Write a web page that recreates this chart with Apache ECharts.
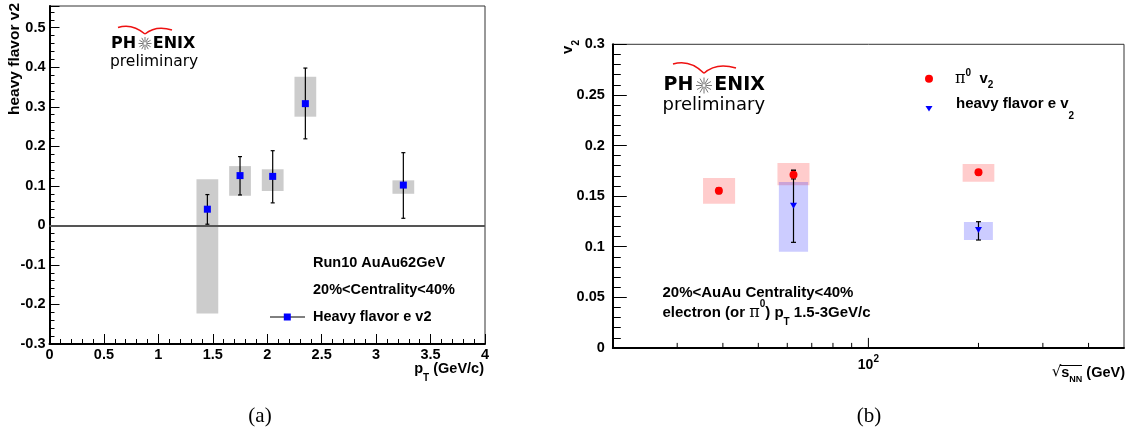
<!DOCTYPE html>
<html>
<head>
<meta charset="utf-8">
<script src="https://cdn.jsdelivr.net/npm/echarts@6/dist/echarts.min.js"></script>
<style>
  html, body { margin: 0; padding: 0; background: #fff; }
  #chart { width: 1127px; height: 429px; }
</style>
</head>
<body>
<div id="chart"></div>
<script>
// (a) heavy flavor electron v2 vs pT, Run10 AuAu 62 GeV
var ptX     = [1.45, 1.75, 2.05, 2.35, 3.25];
var ptBinLo = [1.35, 1.65, 1.95, 2.25, 3.15];
var ptBinHi = [1.55, 1.85, 2.15, 2.45, 3.35];
var hfV2     = [0.041, 0.126, 0.124, 0.308, 0.102];
var hfStatLo = [0.003, 0.077, 0.057, 0.219, 0.018];
var hfStatHi = [0.078, 0.174, 0.189, 0.398, 0.184];
var hfSysLo  = [-0.223, 0.075, 0.087, 0.275, 0.080];
var hfSysHi  = [0.117, 0.150, 0.142, 0.376, 0.114];

// (b) v2 vs sqrt(sNN)
var pi0SNN    = [39, 62.4, 200];
var pi0V2     = [0.1553, 0.1712, 0.1735];
var pi0StatLo = [0.1525, 0.1670, 0.1710];
var pi0StatHi = [0.1580, 0.1755, 0.1760];
var pi0SysLo  = [0.1425, 0.1607, 0.1642];
var pi0SysHi  = [0.1680, 0.1827, 0.1817];
var pi0BoxLo  = [35.3, 56.4, 181];
var pi0BoxHi  = [43.2, 69.0, 221];

var hfeSNN    = [62.4, 200];
var hfeV2     = [0.1405, 0.1165];
var hfeStatLo = [0.1043, 0.1066];
var hfeStatHi = [0.1755, 0.1247];
var hfeSysLo  = [0.0949, 0.1066];
var hfeSysHi  = [0.1640, 0.1244];
var hfeBoxLo  = [56.9, 182.5];
var hfeBoxHi  = [68.4, 219];

// log axis ticks of panel (b)
var logTicks = [30, 40, 50, 60, 70, 80, 90, 100, 200, 300, 400];
var logMajorTicks = [100];

var F = "'Liberation Sans', Arial, sans-serif";

function boxRender(fill) {
  return function (params, api) {
    var p1 = api.coord([api.value(0), api.value(3)]);
    var p2 = api.coord([api.value(1), api.value(2)]);
    return { type: 'rect', shape: { x: p1[0], y: p1[1], width: p2[0] - p1[0], height: p2[1] - p1[1] }, style: { fill: fill } };
  };
}
function errRender(cap) {
  return function (params, api) {
    var top = api.coord([api.value(0), api.value(2)]);
    var bot = api.coord([api.value(0), api.value(1)]);
    var st = { stroke: '#000', lineWidth: 1.2 };
    return { type: 'group', children: [
      { type: 'line', shape: { x1: top[0], y1: top[1], x2: bot[0], y2: bot[1] }, style: st },
      { type: 'line', shape: { x1: top[0] - cap, y1: top[1], x2: top[0] + cap, y2: top[1] }, style: st },
      { type: 'line', shape: { x1: bot[0] - cap, y1: bot[1], x2: bot[0] + cap, y2: bot[1] }, style: st }
    ] };
  };
}
function logTickRender(params, api) {
  var v = api.value(0);
  var p = api.coord([v, 0]);
  var major = logMajorTicks.indexOf(v) >= 0;
  var kids = [{ type: 'line', shape: { x1: p[0], y1: p[1], x2: p[0], y2: p[1] - (major ? 10 : 5) }, style: { stroke: '#000', lineWidth: 1 } }];
  if (major) {
    kids.push({ type: 'text', x: p[0], y: p[1] + 6, style: {
      text: '{m|10}{p|' + Math.round(Math.log10(v)) + '}', align: 'center', verticalAlign: 'top',
      rich: { m: { fontFamily: F, fontWeight: 'bold', fontSize: 14, lineHeight: 18, verticalAlign: 'bottom' },
              p: { fontFamily: F, fontWeight: 'bold', fontSize: 10, lineHeight: 10, verticalAlign: 'top' } } } });
  }
  return { type: 'group', children: kids };
}

function txt(x, y, s, size, extra) {
  var st = { text: s, fill: '#000', fontFamily: F, fontWeight: 'bold', fontSize: size, align: 'left', verticalAlign: 'middle' };
  for (var k in extra) st[k] = extra[k];
  return { type: 'text', x: x, y: y, silent: true, style: st };
}

function logo(px, py, size, starX, starR, enixX, prelX, prelY, prelSize, arc) {
  var els = [];
  var lf = "'DejaVu Sans', sans-serif";
  els.push({ type: 'text', x: px, y: py, style: { text: 'PH', fill: '#000', fontFamily: lf, fontWeight: 'bold', fontSize: size, align: 'left', verticalAlign: 'middle' } });
  els.push({ type: 'text', x: enixX, y: py, style: { text: 'ENIX', fill: '#000', fontFamily: lf, fontWeight: 'bold', fontSize: size, align: 'left', verticalAlign: 'middle' } });
  for (var i = 0; i < 12; i++) {
    var a = i * Math.PI / 6;
    els.push({ type: 'line', shape: { x1: starX + 1.5 * Math.cos(a), y1: py + 1.5 * Math.sin(a), x2: starX + starR * Math.cos(a), y2: py + starR * Math.sin(a) }, style: { stroke: '#777', lineWidth: 1 } });
  }
  els.push({ type: 'text', x: prelX, y: prelY, style: { text: 'preliminary', fill: '#000', fontFamily: lf, fontSize: prelSize, align: 'left', verticalAlign: 'middle' } });
  els.push({ type: 'bezierCurve', shape: { x1: arc[0][0], y1: arc[0][1], cpx1: arc[1][0], cpy1: arc[1][1], x2: arc[2][0], y2: arc[2][1] }, style: { stroke: '#ee1111', lineWidth: 1.5, fill: null } });
  els.push({ type: 'bezierCurve', shape: { x1: arc[2][0], y1: arc[2][1], cpx1: arc[3][0], cpy1: arc[3][1], x2: arc[4][0], y2: arc[4][1] }, style: { stroke: '#ee1111', lineWidth: 1.5, fill: null } });
  return els;
}

var graphics = [];
// panel (a) labels
graphics.push({ type: 'text', x: 15, y: 3, rotation: Math.PI / 2, silent: true, style: { text: 'heavy flavor v2', fill: '#000', fontFamily: F, fontWeight: 'bold', fontSize: 15.5, align: 'right', verticalAlign: 'middle' } });
graphics.push({ type: 'text', x: 484, y: 361, silent: true, style: { text: '{m|p}{s|T}{m| (GeV/c)}', fill: '#000', align: 'right', verticalAlign: 'top',
  rich: { m: { fontFamily: F, fontWeight: 'bold', fontSize: 14.5, lineHeight: 16, verticalAlign: 'top' },
          s: { fontFamily: F, fontWeight: 'bold', fontSize: 10, lineHeight: 22, verticalAlign: 'bottom' } } } });
graphics.push(txt(313, 263, 'Run10 AuAu62GeV', 14.5));
graphics.push(txt(313, 290, '20%<Centrality<40%', 14.5));
graphics.push({ type: 'line', silent: true, shape: { x1: 270, y1: 317, x2: 305, y2: 317 }, style: { stroke: '#000', lineWidth: 1 } });
graphics.push({ type: 'rect', silent: true, shape: { x: 283.8, y: 313.5, width: 7, height: 7 }, style: { fill: '#0000ff' } });
graphics.push(txt(313, 317, 'Heavy flavor e v2', 14.5));
graphics = graphics.concat(logo(111, 43.5, 16, 145, 6.5, 152.7, 110, 62, 15.5, [[118, 27.5], [132, 23], [145, 34], [156, 25], [172, 30]]));

// panel (b) labels
graphics.push({ type: 'text', x: 571, y: 40, rotation: Math.PI / 2, silent: true, style: { text: '{m|v}{s|2}', fill: '#000', align: 'right', verticalAlign: 'middle',
  rich: { m: { fontFamily: F, fontWeight: 'bold', fontSize: 15, lineHeight: 16, verticalAlign: 'top' },
          s: { fontFamily: F, fontWeight: 'bold', fontSize: 10, lineHeight: 21, verticalAlign: 'bottom' } } } });
graphics.push({ type: 'text', x: 1125, y: 365, silent: true, style: { text: '{r|√}{m|s}{s|NN}{m| (GeV)}', fill: '#000', align: 'right', verticalAlign: 'top',
  rich: { r: { fontFamily: "'DejaVu Sans', sans-serif", fontSize: 15, lineHeight: 16, verticalAlign: 'top' },
          m: { fontFamily: F, fontWeight: 'bold', fontSize: 14.5, lineHeight: 16, verticalAlign: 'top' },
          s: { fontFamily: F, fontWeight: 'bold', fontSize: 9, lineHeight: 19, verticalAlign: 'bottom' } } } });
graphics.push({ type: 'line', silent: true, shape: { x1: 1060, y1: 365.5, x2: 1082, y2: 365.5 }, style: { stroke: '#000', lineWidth: 1 } });
graphics.push({ type: 'circle', silent: true, shape: { cx: 929, cy: 78.7, r: 4 }, style: { fill: '#ff0000' } });
graphics.push({ type: 'polygon', silent: true, shape: { points: [[925.5, 106], [932.5, 106], [929, 111.5]] }, style: { fill: '#0000ff' } });
graphics.push({ type: 'text', x: 955, y: 68, silent: true, style: { text: '{pi|π}{sup|0}{m|  v}{sub|2}', fill: '#000', align: 'left', verticalAlign: 'top',
  rich: { pi: { fontFamily: "'DejaVu Serif', serif", fontSize: 16, lineHeight: 22 },
          sup: { fontFamily: F, fontWeight: 'bold', fontSize: 10, lineHeight: 14, verticalAlign: 'top' },
          m: { fontFamily: F, fontWeight: 'bold', fontSize: 15, lineHeight: 22 },
          sub: { fontFamily: F, fontWeight: 'bold', fontSize: 10, lineHeight: 16, verticalAlign: 'bottom' } } } });
graphics.push({ type: 'text', x: 956, y: 96.3, silent: true, style: { text: '{m|heavy flavor e v}{sub|2}', fill: '#000', align: 'left', verticalAlign: 'top',
  rich: { m: { fontFamily: F, fontWeight: 'bold', fontSize: 15, lineHeight: 16, verticalAlign: 'top' },
          sub: { fontFamily: F, fontWeight: 'bold', fontSize: 10, lineHeight: 25, verticalAlign: 'bottom' } } } });
graphics.push(txt(662.5, 293.3, '20%<AuAu Centrality<40%', 15));
graphics.push({ type: 'text', x: 662.5, y: 297.7, silent: true, style: { text: '{m|electron (or }{pi|π}{sup|0}{m|) p}{sub|T}{m| 1.5-3GeV/c}', fill: '#000', align: 'left', verticalAlign: 'top',
  rich: { m: { fontFamily: F, fontWeight: 'bold', fontSize: 15, lineHeight: 30 },
          pi: { fontFamily: "'DejaVu Serif', serif", fontSize: 16, lineHeight: 30 },
          sup: { fontFamily: F, fontWeight: 'bold', fontSize: 10, lineHeight: 20, verticalAlign: 'top', padding: [2, 0, 0, 0] },
          sub: { fontFamily: F, fontWeight: 'bold', fontSize: 10, lineHeight: 16, verticalAlign: 'bottom' } } } });
graphics = graphics.concat(logo(663.6, 85.5, 19, 704, 8, 714.3, 662.5, 105.8, 18, [[673, 64], [690, 59], [704, 73.3], [716, 62], [736, 68]]));

// captions
graphics.push({ type: 'text', x: 260, y: 416, silent: true, style: { text: '(a)', fill: '#000', fontFamily: "'Liberation Serif', serif", fontSize: 21, align: 'center', verticalAlign: 'middle' } });
graphics.push({ type: 'text', x: 869, y: 416, silent: true, style: { text: '(b)', fill: '#000', fontFamily: "'Liberation Serif', serif", fontSize: 21, align: 'center', verticalAlign: 'middle' } });

function fmt(max) {
  return function (v) { return v > max + 1e-6 ? '' : String(Math.round(v * 100) / 100); };
}
function lab(margin, max) {
  return { color: '#000', fontFamily: F, fontWeight: 'bold', fontSize: 14.5, margin: margin, formatter: fmt(max) };
}

var myChart = echarts.init(document.getElementById('chart'));
var option = {
  animation: false,
  backgroundColor: '#fff',
  grid: [
    { left: 49.5, top: 6, width: 435.5, height: 338, show: true, borderColor: '#333', borderWidth: 1, outerBoundsMode: 'none' },
    { left: 612.8, top: 44.3, width: 511.2, height: 303.6, show: true, borderColor: '#333', borderWidth: 1, outerBoundsMode: 'none' }
  ],
  xAxis: [
    { gridIndex: 0, type: 'value', min: 0, max: 4, interval: 0.5,
      axisLine: { onZero: false, lineStyle: { color: '#000', width: 2 } },
      axisTick: { inside: true, length: 10, lineStyle: { color: '#000', width: 1 } },
      minorTick: { show: true, splitNumber: 5, length: 5, lineStyle: { color: '#000', width: 1 } },
      splitLine: { show: false },
      axisLabel: lab(3, 4) },
    { gridIndex: 1, type: 'log', logBase: 10, min: 20, max: 500,
      axisLine: { onZero: false, lineStyle: { color: '#000', width: 2 } },
      axisTick: { show: false }, minorTick: { show: false }, splitLine: { show: false },
      axisLabel: { show: false } }
  ],
  yAxis: [
    { gridIndex: 0, type: 'value', min: -0.3, max: 0.555, interval: 0.1,
      axisLine: { onZero: false, lineStyle: { color: '#000', width: 2 } },
      axisTick: { inside: true, length: 10, lineStyle: { color: '#000', width: 1 } },
      minorTick: { show: true, splitNumber: 5, length: 5, lineStyle: { color: '#000', width: 1 } },
      splitLine: { show: false },
      axisLabel: lab(4, 0.5) },
    { gridIndex: 1, type: 'value', min: 0, max: 0.3, interval: 0.05,
      axisLine: { onZero: false, lineStyle: { color: '#000', width: 2 } },
      axisTick: { inside: true, length: 14, lineStyle: { color: '#000', width: 1 } },
      minorTick: { show: true, splitNumber: 5, length: 8, lineStyle: { color: '#000', width: 1 } },
      splitLine: { show: false },
      axisLabel: lab(8, 0.3) }
  ],
  graphic: graphics,
  series: [
    { type: 'line', xAxisIndex: 0, yAxisIndex: 0, data: [], silent: true,
      markLine: { silent: true, symbol: ['none', 'none'], label: { show: false }, lineStyle: { color: '#555', width: 2, type: 'solid' }, data: [{ yAxis: 0 }] } },
    { type: 'custom', xAxisIndex: 0, yAxisIndex: 0, z: 3, silent: true, renderItem: boxRender('#cccccc'),
      encode: { x: [0, 1], y: [2, 3] },
      data: ptX.map(function (x, i) { return [ptBinLo[i], ptBinHi[i], hfSysLo[i], hfSysHi[i]]; }) },
    { type: 'custom', xAxisIndex: 0, yAxisIndex: 0, z: 4, silent: true, renderItem: errRender(2),
      encode: { x: 0, y: [1, 2] },
      data: ptX.map(function (x, i) { return [x, hfStatLo[i], hfStatHi[i]]; }) },
    { type: 'scatter', xAxisIndex: 0, yAxisIndex: 0, z: 5, silent: true, symbol: 'rect', symbolSize: 7,
      itemStyle: { color: '#0000ff', opacity: 1 },
      data: ptX.map(function (x, i) { return [x, hfV2[i]]; }) },

    { type: 'custom', xAxisIndex: 1, yAxisIndex: 1, z: 3, silent: true, renderItem: boxRender('rgba(255,0,0,0.2)'),
      encode: { x: [0, 1], y: [2, 3] },
      data: pi0SNN.map(function (x, i) { return [pi0BoxLo[i], pi0BoxHi[i], pi0SysLo[i], pi0SysHi[i]]; }) },
    { type: 'custom', xAxisIndex: 1, yAxisIndex: 1, z: 3, silent: true, renderItem: boxRender('rgba(0,0,255,0.2)'),
      encode: { x: [0, 1], y: [2, 3] },
      data: hfeSNN.map(function (x, i) { return [hfeBoxLo[i], hfeBoxHi[i], hfeSysLo[i], hfeSysHi[i]]; }) },
    { type: 'custom', xAxisIndex: 1, yAxisIndex: 1, z: 4, silent: true, renderItem: errRender(2.5),
      encode: { x: 0, y: [1, 2] },
      data: pi0SNN.map(function (x, i) { return [x, pi0StatLo[i], pi0StatHi[i]]; }) },
    { type: 'custom', xAxisIndex: 1, yAxisIndex: 1, z: 4, silent: true, renderItem: errRender(2.5),
      encode: { x: 0, y: [1, 2] },
      data: hfeSNN.map(function (x, i) { return [x, hfeStatLo[i], hfeStatHi[i]]; }) },
    { type: 'scatter', xAxisIndex: 1, yAxisIndex: 1, z: 5, silent: true, symbol: 'circle', symbolSize: 8,
      itemStyle: { color: '#ff0000', opacity: 1 },
      data: pi0SNN.map(function (x, i) { return [x, pi0V2[i]]; }) },
    { type: 'scatter', xAxisIndex: 1, yAxisIndex: 1, z: 5, silent: true, symbol: 'triangle', symbolRotate: 180, symbolSize: [7, 6],
      itemStyle: { color: '#0000ff', opacity: 1 },
      data: hfeSNN.map(function (x, i) { return [x, hfeV2[i]]; }) },
    { type: 'custom', xAxisIndex: 1, yAxisIndex: 1, z: 6, silent: true, renderItem: logTickRender,
      encode: { x: 0, y: 1 },
      data: logTicks.map(function (v) { return [v, 0]; }) }
  ]
};
myChart.setOption(option);
window.addEventListener('resize', function () { myChart.resize(); });
</script>
</body>
</html>
